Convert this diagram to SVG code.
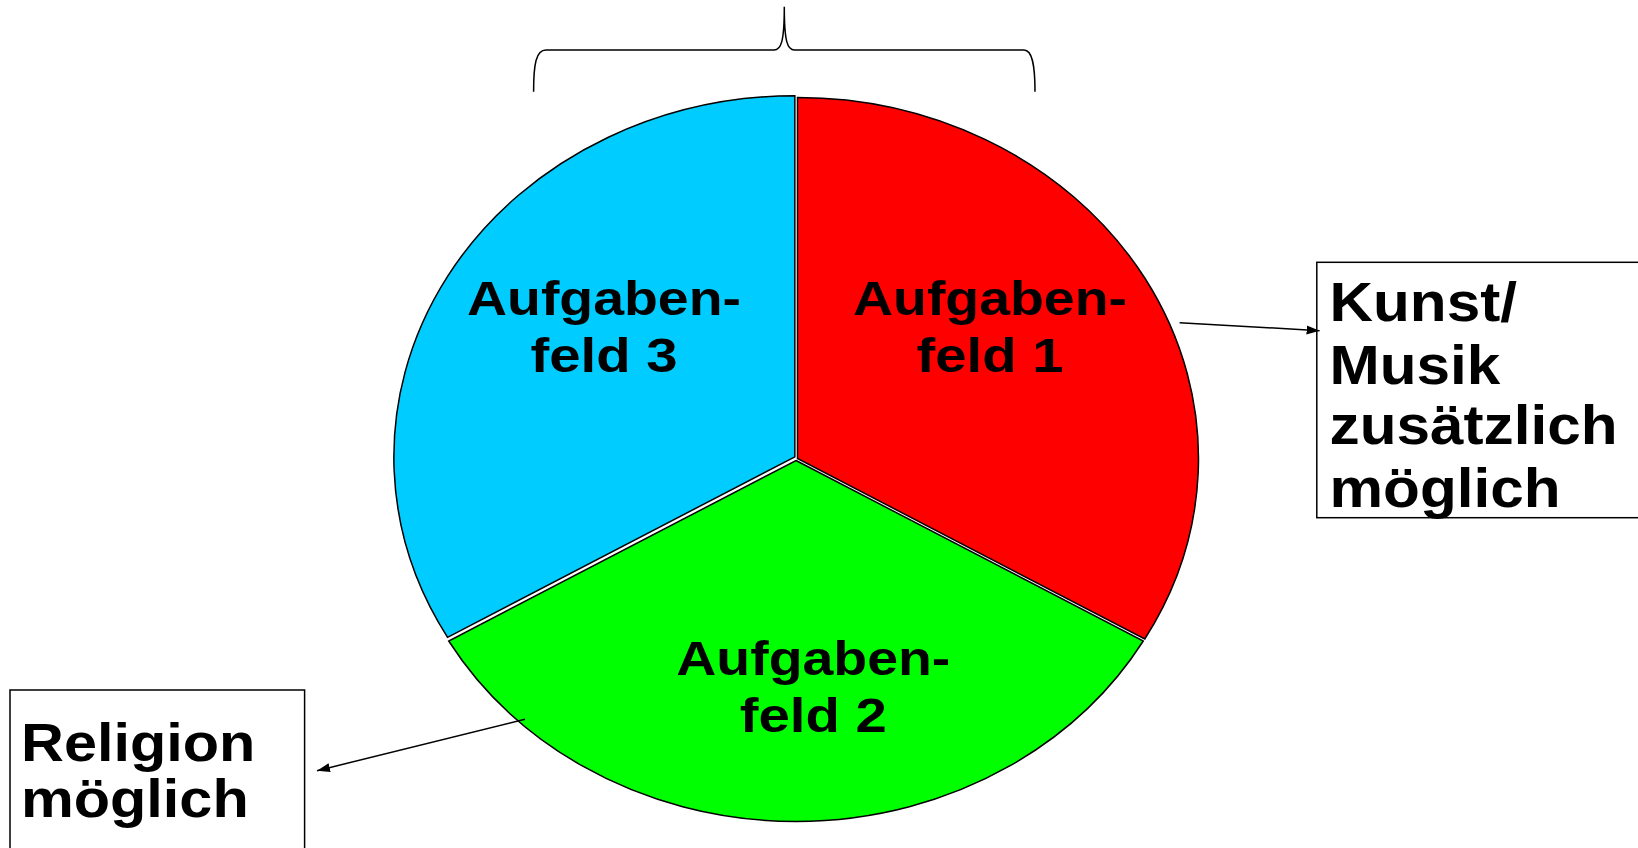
<svg xmlns="http://www.w3.org/2000/svg" width="1638" height="848" viewBox="0 0 1638 848">
<style>
.slice{stroke:#000;stroke-width:1.5;stroke-linejoin:miter}
.lbl{font-family:"Liberation Sans",Arial,sans-serif;font-weight:bold;fill:#000}
.pie{font-size:48px;text-anchor:middle}
.box{fill:#fff;stroke:#000;stroke-width:1.5}
.conn{fill:none;stroke:#000;stroke-width:1.5}
</style>
<defs>
<marker id="arr" markerUnits="userSpaceOnUse" markerWidth="14" markerHeight="10" refX="13" refY="5" orient="auto">
<path d="M0,0.5 L13,5 L0,9.5 Z" fill="#000"/>
</marker>
</defs>
<rect width="1638" height="848" fill="#fff"/>
<g id="brace">
<path class="conn" d="M533.6,91.7 C533.6,64 536,50 546,50 L774,50 C781,50 784.3,42 784.3,6.7 C784.3,42 787.5,50 794.5,50 L1024,50 C1032,50 1035,64 1035,91.7"/>
</g>
<g id="feld1">
<path class="slice" fill="#FF0000" d="M797.5,458.5 L797.5,97.5 A401,361 0 0 1 1144.77,639 Z"/>
<text class="lbl pie" x="990" y="315" textLength="274" lengthAdjust="spacingAndGlyphs">Aufgaben-</text>
<text class="lbl pie" x="990" y="371.7" textLength="147" lengthAdjust="spacingAndGlyphs">feld 1</text>
</g>
<g id="feld2">
<path class="slice" fill="#00FF00" d="M796,460.5 L1143.27,641 A401,361 0 0 1 448.73,641 Z"/>
<text class="lbl pie" x="813.3" y="675" textLength="274" lengthAdjust="spacingAndGlyphs">Aufgaben-</text>
<text class="lbl pie" x="813.3" y="731.7" textLength="147" lengthAdjust="spacingAndGlyphs">feld 2</text>
</g>
<g id="feld3">
<path class="slice" fill="#00CCFF" d="M794.85,456.8 L447.58,637.3 A401,361 0 0 1 794.85,95.8 Z"/>
<text class="lbl pie" x="604" y="315" textLength="274" lengthAdjust="spacingAndGlyphs">Aufgaben-</text>
<text class="lbl pie" x="604" y="371.7" textLength="147" lengthAdjust="spacingAndGlyphs">feld 3</text>
</g>
<g id="kunst">
<rect class="box" x="1316.8" y="262.3" width="340" height="255.4"/>
<text class="lbl" font-size="55" x="1329.5" y="321" textLength="187.5" lengthAdjust="spacingAndGlyphs">Kunst/</text>
<text class="lbl" font-size="55" x="1329.5" y="384" textLength="170.8" lengthAdjust="spacingAndGlyphs">Musik</text>
<text class="lbl" font-size="55" x="1329.5" y="444" textLength="288.1" lengthAdjust="spacingAndGlyphs">zusätzlich</text>
<text class="lbl" font-size="55" x="1329.5" y="506.7" textLength="231.1" lengthAdjust="spacingAndGlyphs">möglich</text>
</g>
<g id="religion">
<rect class="box" x="10" y="690" width="294.6" height="200"/>
<text class="lbl" font-size="53" x="21" y="761" textLength="234.3" lengthAdjust="spacingAndGlyphs">Religion</text>
<text class="lbl" font-size="53" x="21" y="817.3" textLength="227.7" lengthAdjust="spacingAndGlyphs">möglich</text>
</g>
<g id="connectors">
<line class="conn" x1="1179.6" y1="322.7" x2="1319.6" y2="330.7" marker-end="url(#arr)"/>
<line class="conn" x1="525" y1="719.3" x2="317" y2="770.7" marker-end="url(#arr)"/>
</g>
</svg>
